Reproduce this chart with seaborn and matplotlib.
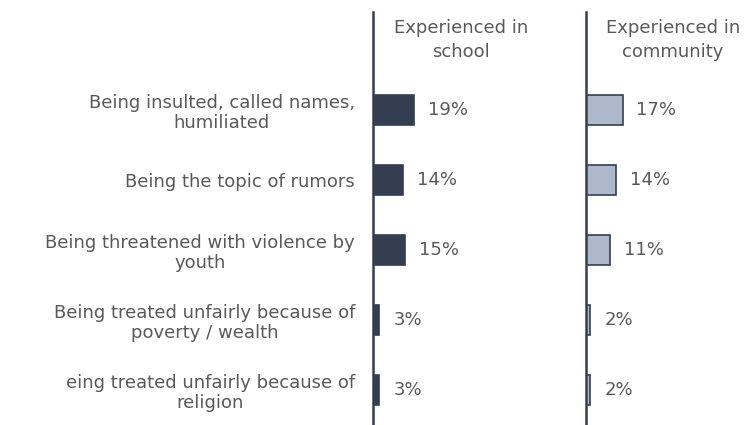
import pandas as pd
import matplotlib
matplotlib.use('Agg')
import matplotlib.pyplot as plt
import seaborn as sns

# data
categories = [
    'Being insulted, called names,\nhumiliated',
    'Being the topic of rumors',
    'Being threatened with violence by\nyouth',
    'Being treated unfairly because of\npoverty / wealth',
    'eing treated unfairly because of\nreligion',
]
school = [19, 14, 15, 3, 3]
community = [17, 14, 11, 2, 2]
headers = ['Experienced in\nschool', 'Experienced in\ncommunity']

df = pd.DataFrame({'category': categories, 'school': school, 'community': community})

sns.set_style('white')
plt.rcParams['font.family'] = ['DejaVu Sans']

dark = '#333F50'
light = '#ADB9CA'
txt = '#595959'
fs = 13

W, H = 751, 425
fig = plt.figure(figsize=(W / 100, H / 100), dpi=100)

px_per_pct = 2.15
top = (H - 12) / H
ax1 = fig.add_axes([373 / W, 0, 200 / W, top])
ax2 = fig.add_axes([586 / W, 0, 165 / W, top])

sns.barplot(data=df, x='school', y='category', ax=ax1, color=dark,
            width=0.43, saturation=1, edgecolor=dark, linewidth=1.2)
sns.barplot(data=df, x='community', y='category', ax=ax2, color=light,
            width=0.43, saturation=1, edgecolor=dark, linewidth=1.2)

for ax, w, head, cx in [(ax1, 200, headers[0], 461), (ax2, 165, headers[1], 673)]:
    ax.set_xlim(0, w / px_per_pct)
    ax.set_ylim(4.5, -1.4)
    ax.set_xlabel('')
    ax.set_ylabel('')
    ax.set_xticks([])
    for s in ['top', 'right', 'bottom']:
        ax.spines[s].set_visible(False)
    ax.spines['left'].set_color(dark)
    ax.spines['left'].set_linewidth(1.8)
    ax.bar_label(ax.containers[0], labels=[f'{int(v)}%' for v in ax.containers[0].datavalues],
                 padding=10, fontsize=fs, color=txt)
    fig.text(cx / W, 1 - 40 / H, head, ha='center', va='center', fontsize=fs,
             color=txt, linespacing=1.4)

ax1.tick_params(axis='y', length=0, pad=13, labelsize=fs, labelcolor=txt)
for lab in ax1.get_yticklabels():
    lab.set_multialignment('center')
    lab.set_linespacing(1.15)
ax2.set_yticks([])

fig.savefig('out.png', dpi=100)
